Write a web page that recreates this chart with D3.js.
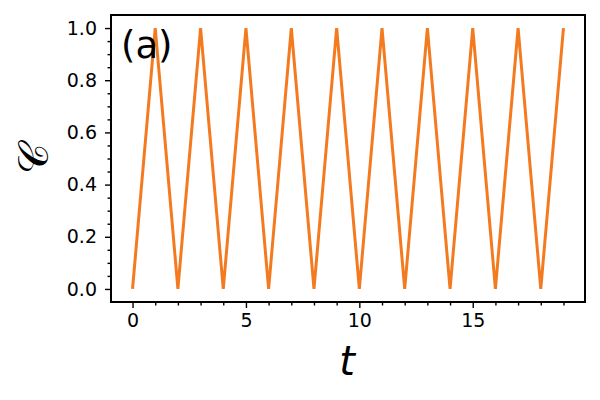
<!DOCTYPE html>
<html><head><meta charset="utf-8">
<script src="https://cdn.jsdelivr.net/npm/d3@7"></script>
<style>body{margin:0;background:#fff}svg{display:block}</style>
</head><body>
<svg id="c" width="600" height="400"></svg>
<script>
const tValues = [0,1,2,3,4,5,6,7,8,9,10,11,12,13,14,15,16,17,18,19];
const cValues = [0,1,0,1,0,1,0,1,0,1,0,1,0,1,0,1,0,1,0,1];
const xTicks = [0,5,10,15];
const yTicks = [0.0,0.2,0.4,0.6,0.8,1.0];
const panelLabel = "(a)";
const xLabel = "t";
const yLabel = "𝒞";

const W=600,H=400, L=111,R=585,T=15,B=302;
const svg=d3.select("#c");
const x=d3.scaleLinear().domain([-0.95,19.95]).range([L,R]);
const y=d3.scaleLinear().domain([-0.05,1.05]).range([B,T]);
const font="DejaVu Sans";

const xMinor=d3.range(0,20).filter(v=>!xTicks.includes(v));
const yMinor=d3.range(0,1.0001,0.05).map(v=>+v.toFixed(2)).filter(v=>!yTicks.some(t=>Math.abs(t-v)<1e-6));

const gx=svg.append("g").attr("transform",`translate(0,${B})`);
gx.call(d3.axisBottom(x).tickValues(xTicks).tickSize(6).tickPadding(6).tickFormat(d3.format("d")));
const gxm=svg.append("g").attr("transform",`translate(0,${B})`);
gxm.call(d3.axisBottom(x).tickValues(xMinor).tickSize(3.5).tickFormat(""));
const gy=svg.append("g").attr("transform",`translate(${L},0)`);
gy.call(d3.axisLeft(y).tickValues(yTicks).tickSize(6).tickPadding(8).tickFormat(d3.format(".1f")));
const gym=svg.append("g").attr("transform",`translate(${L},0)`);
gym.call(d3.axisLeft(y).tickValues(yMinor).tickSize(3.5).tickFormat(""));
svg.selectAll(".domain").remove();
svg.selectAll(".tick line").attr("stroke","#000").attr("stroke-width",1.4);
svg.selectAll(".tick text").attr("font-family",font).attr("font-size",19).attr("fill","#000");

svg.append("path").datum(tValues.map((t,i)=>[t,cValues[i]]))
  .attr("d",d3.line().x(d=>x(d[0])).y(d=>y(d[1])))
  .attr("fill","none").attr("stroke","#f47a20").attr("stroke-width",3).attr("stroke-linejoin","miter");

svg.append("rect").attr("x",L).attr("y",T).attr("width",R-L).attr("height",B-T)
  .attr("fill","none").attr("stroke","#000").attr("stroke-width",2);

svg.append("text").attr("x",121).attr("y",58).attr("font-family",font).attr("font-size",37).text(panelLabel);
svg.append("text").attr("x",347).attr("y",375).attr("text-anchor","middle").attr("font-family",font)
  .attr("font-style","italic").attr("font-size",40).text(xLabel);
svg.append("text").attr("transform","translate(48,158) rotate(-90)").attr("text-anchor","middle")
  .attr("font-family","DejaVu Serif, serif").attr("font-size",42).text(yLabel);
</script>
</body></html>
